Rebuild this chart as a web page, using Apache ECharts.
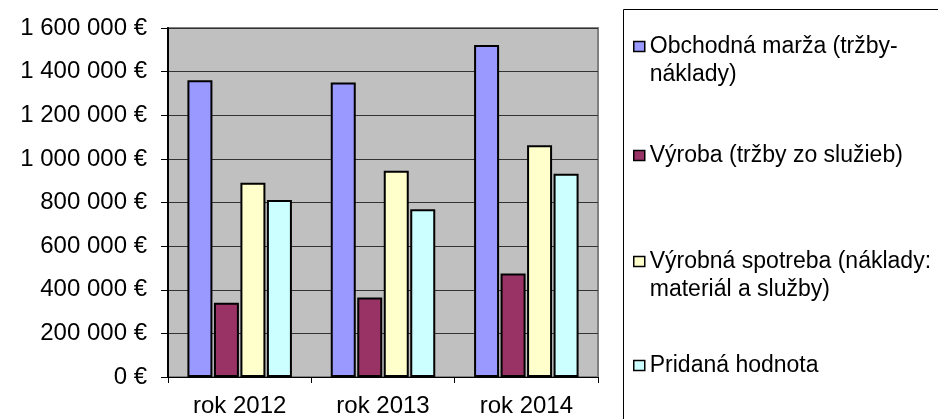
<!DOCTYPE html>
<html>
<head>
<meta charset="utf-8">
<script src="https://cdn.jsdelivr.net/npm/echarts@6/dist/echarts.min.js"></script>
<style>
  html, body { margin: 0; padding: 0; background: #fff; }
  #chart { width: 938px; height: 419px; }
</style>
</head>
<body>
<div id="chart"></div>
<script>
    // kategórie a hodnoty (odčítané z grafu)
    var years = ["rok 2012", "rok 2013", "rok 2014"];
    var seriesNames = ["Obchodná marža (tržby-náklady)", "Výroba (tržby zo služieb)", "Výrobná spotreba (náklady: materiál a služby)", "Pridaná hodnota"];
    var marza = [1360000, 1350000, 1522000];
    var vyroba = [340000, 365000, 474000];
    var spotreba = [890000, 946000, 1062000];
    var pridana = [811000, 769000, 932000];
    var yTicks = [0, 200000, 400000, 600000, 800000, 1000000, 1200000, 1400000, 1600000];

    var colors = ["#9999FF", "#993366", "#FFFFCC", "#CCFFFF"];
    var values = [marza, vyroba, spotreba, pridana];
    // texty legendy: prázdny riadok navrchu, aby ikona sedela pri prvom riadku
    var legendText = {};
    legendText[seriesNames[0]] = " \nObchodná marža (tržby-\nnáklady)";
    legendText[seriesNames[1]] = "Výroba (tržby zo služieb)";
    legendText[seriesNames[2]] = " \nVýrobná spotreba (náklady:\nmateriál a služby)";
    legendText[seriesNames[3]] = "Pridaná hodnota";
    var LH = 28.5;
    var legendTop = [46.5 - 1.5 * LH, 155.5 - LH / 2, 261.5 - 1.5 * LH, 365.5 - LH / 2];

    var FONT = "'Liberation Sans', Arial, sans-serif";

    function fmtEuro(v){
        var s = String(Math.round(v));
        return s.replace(/\B(?=(\d{3})+(?!\d))/g, " ") + " €";
    }

    var chart = echarts.init(document.getElementById("chart"));

    var series = [];
    var legends = [];
    for(var i=0;i<seriesNames.length;i++){
        series.push({
            name: seriesNames[i],
            type: "bar",
            data: values[i],
            barWidth: 25,
            barGap: "6%",
            barCategoryGap: "27%",
            itemStyle: { color: colors[i], borderColor: "#000", borderWidth: 2 },
            emphasis: { disabled: true }
        });
        legends.push({
            data: [seriesNames[i]],
            left: 633,
            top: legendTop[i],
            orient: "vertical",
            icon: "rect",
            itemWidth: 11,
            itemHeight: 10,
            itemGap: 0,
            padding: 0,
            selectedMode: false,
            itemStyle: { borderColor: "#000", borderWidth: 1.5 },
            formatter: function(name){ return legendText[name]; },
            textStyle: { fontFamily: FONT, fontSize: 23, color: "#000", lineHeight: LH }
        });
    }

    var option = {
        animation: false,
        backgroundColor: "#fff",
        textStyle: { fontFamily: FONT },
        graphic: [{
            type: "rect",
            shape: { x: 623.5, y: 9.5, width: 330, height: 430 },
            style: { fill: "none", stroke: "#000", lineWidth: 1 },
            silent: true
        }],
        legend: legends,
        grid: {
            left: 168, right: 340, top: 28, bottom: 42,
            show: true,
            backgroundColor: "#C0C0C0",
            borderColor: "#808080",
            borderWidth: 2
        },
        xAxis: {
            type: "category",
            data: years,
            axisLine: { lineStyle: { color: "#000", width: 1 } },
            axisTick: { show: true, length: 6, lineStyle: { color: "#000" } },
            axisLabel: { fontFamily: FONT, fontSize: 24, color: "#000", margin: 17 }
        },
        yAxis: {
            type: "value",
            min: yTicks[0],
            max: yTicks[yTicks.length - 1],
            interval: yTicks[1] - yTicks[0],
            axisLine: { show: true, lineStyle: { color: "#000", width: 2 } },
            axisTick: { show: true, length: 7, lineStyle: { color: "#000" } },
            splitLine: { lineStyle: { color: "#333", width: 1 } },
            axisLabel: { fontFamily: FONT, fontSize: 24, color: "#000", margin: 21, formatter: fmtEuro }
        },
        series: series
    };
    chart.setOption(option);
</script>
</body>
</html>
